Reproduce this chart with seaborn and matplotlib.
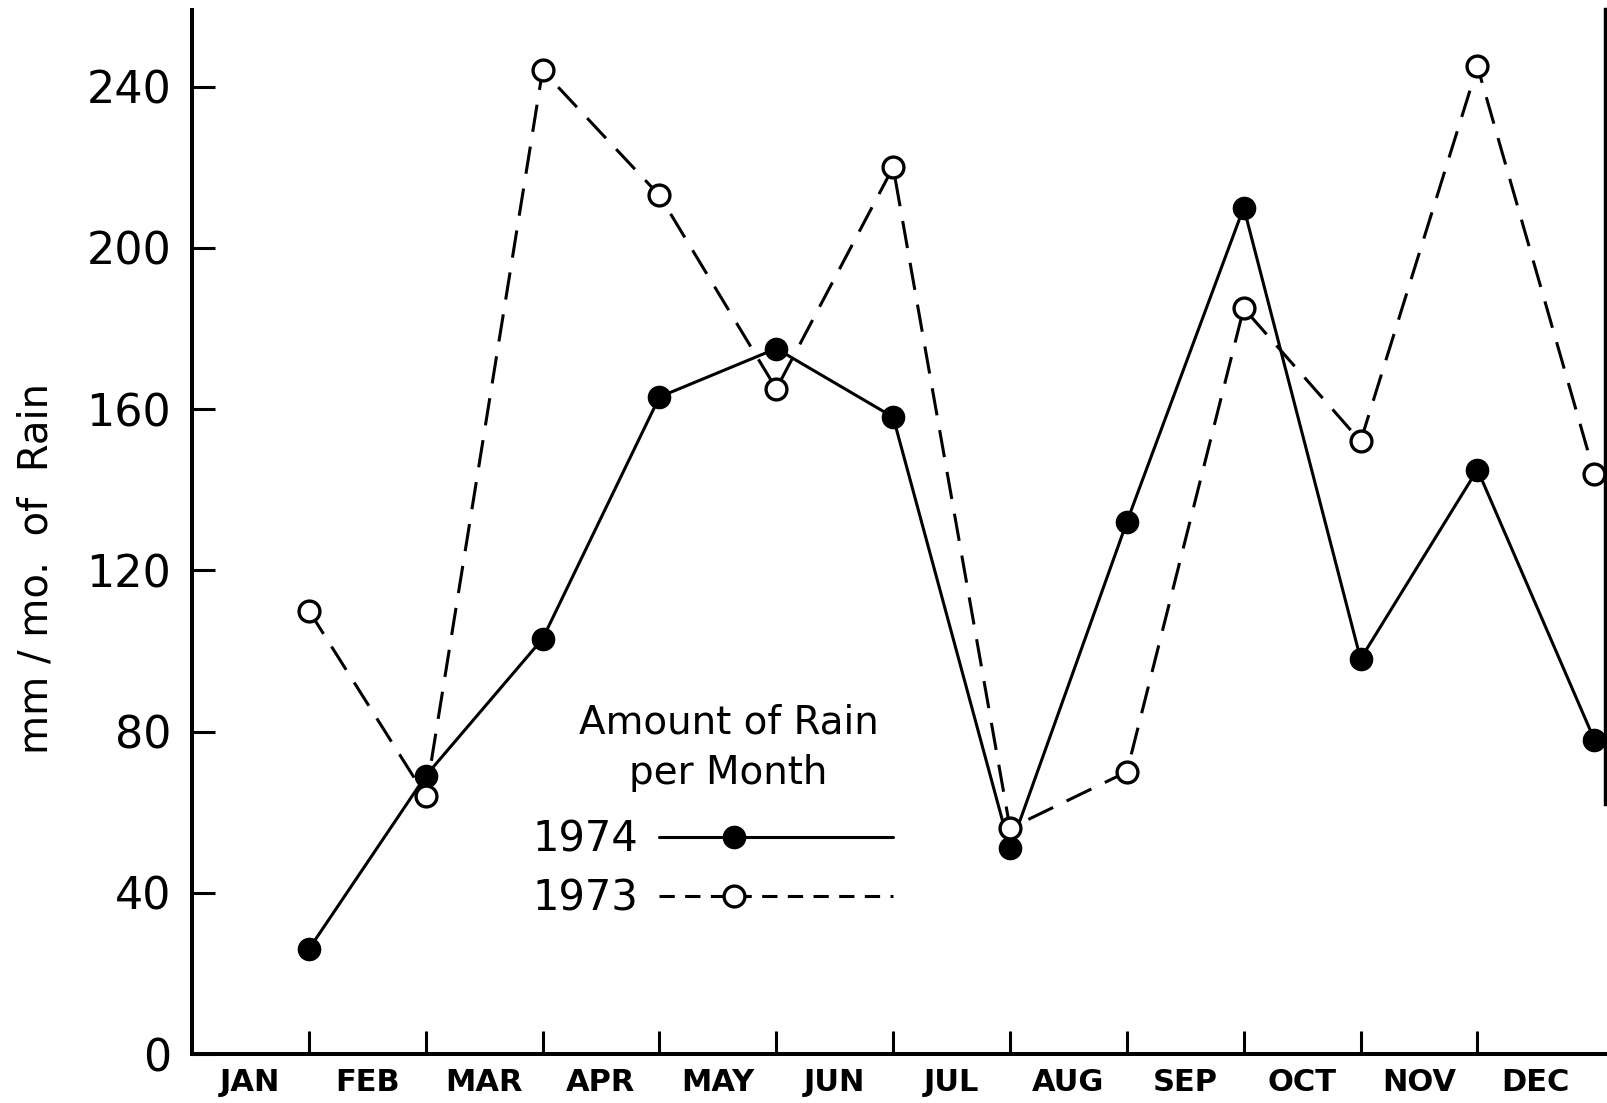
import numpy as np
import pandas as pd
import seaborn as sns
import matplotlib.pyplot as plt
from matplotlib.lines import Line2D
from matplotlib.legend_handler import HandlerLine2D

# monthly rainfall, plotted at the end of each month
months = ["JAN", "FEB", "MAR", "APR", "MAY", "JUN", "JUL", "AUG", "SEP", "OCT", "NOV", "DEC"]
rain_1974 = [26, 69, 103, 163, 175, 158, 51, 132, 210, 98, 145, 78]
rain_1973 = [110, 64, 244, 213, 165, 220, 56, 70, 185, 152, 245, 144]
y_ticks = [0, 40, 80, 120, 160, 200, 240]

sns.set_theme(style="ticks")
plt.rcParams["font.family"] = ["DejaVu Sans"]
plt.rcParams["text.color"] = "black"
plt.rcParams["axes.labelcolor"] = "black"


class OffsetMarkerHandler(HandlerLine2D):
    # legend marker sits a third of the way along the line, with shorter dashes
    def create_artists(self, legend, orig_handle, xdescent, ydescent, width,
                       height, fontsize, trans):
        artists = super().create_artists(legend, orig_handle, xdescent, ydescent,
                                         width, height, fontsize, trans)
        legline = artists[0]
        x0 = -xdescent
        legline.set_xdata([x0, x0 + 0.32 * width, x0 + width])
        if orig_handle.get_linestyle() not in ("-", "solid"):
            legline.set_dashes((5, 3.4))
        return artists


df = pd.DataFrame({
    "month_end": np.arange(1, len(months) + 1),
    "r1974": rain_1974,
    "r1973": rain_1973,
})

fig = plt.figure(figsize=(16.08, 11.03), dpi=100)
ax = fig.add_axes([192 / 1608, 49 / 1103, 1414 / 1608, 1044 / 1103])

sns.lineplot(data=df, x="month_end", y="r1974", color="black", lw=2.2,
             marker="o", markersize=16, markerfacecolor="black",
             markeredgecolor="black", markeredgewidth=1, label="1974", ax=ax)
sns.lineplot(data=df, x="month_end", y="r1973", color="black", lw=2.2,
             linestyle=(0, (9, 4.9)),
             marker="o", markersize=15, markerfacecolor="white",
             markeredgecolor="black", markeredgewidth=2.4, label="1973", ax=ax)

ax.set_xlim(0, 12.1)
ax.set_ylim(0, 259)

# axis styling
for side in ["left", "bottom"]:
    ax.spines[side].set_linewidth(2.9)
    ax.spines[side].set_color("black")
ax.spines["top"].set_visible(False)
ax.spines["right"].set_linewidth(3.2)
ax.spines["right"].set_color("black")
ax.spines["right"].set_bounds(62, 259)

ax.set_yticks(y_ticks)
ax.tick_params(axis="y", direction="in", length=16.5, width=2.2, labelsize=32,
               pad=15, colors="black")

ax.set_xticks(np.arange(1, 12))
ax.set_xticklabels([])
ax.set_xticks(np.arange(len(months)) + 0.5, minor=True)
ax.set_xticklabels(months, minor=True, fontsize=22, fontweight="bold")
ax.tick_params(axis="x", which="major", direction="in", length=16.5, width=2.2,
               colors="black")
ax.tick_params(axis="x", which="minor", length=0, pad=10, colors="black")

ax.set_xlabel("")
ax.set_ylabel("mm / mo.  of  Rain", fontsize=29)
ax.yaxis.set_label_coords(-0.096, 0.4646)

# legend: title as its own text block, entries below
ax.text(0.3795, 0.2935, "Amount of Rain\nper Month", transform=ax.transAxes,
        fontsize=28, ha="center", va="center", multialignment="center",
        linespacing=1.4, color="black")
ax.legend(fontsize=30, markerfirst=False, frameon=False, handlelength=5.63,
          handletextpad=0.5, labelspacing=0.4, loc="center left",
          bbox_to_anchor=(0.2405, 0.177), borderpad=0, borderaxespad=0,
          handler_map={Line2D: OffsetMarkerHandler()})

fig.savefig("out.png", dpi=100)
